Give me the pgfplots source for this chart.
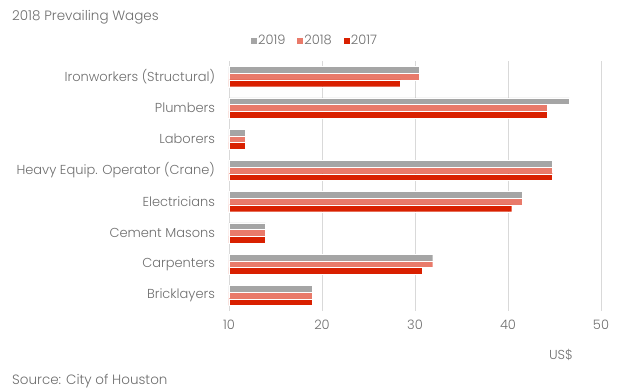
\documentclass[border=0pt]{standalone}
\usepackage{pgfplots}
\pgfplotsset{compat=1.18}
\usepackage{fontspec}
\setmainfont{Poppins}[UprightFont={* Light}]
\definecolor{c19}{HTML}{A5A5A5}
\definecolor{c18}{HTML}{E97A6A}
\definecolor{c17}{HTML}{D92000}
\definecolor{txt}{HTML}{6E6E6E}
\definecolor{grd}{HTML}{D9D9D9}
\begin{document}
\begin{tikzpicture}[x=1pt,y=1pt]
\useasboundingbox (0,0) rectangle (619,389);
\begin{axis}[
  at={(229pt,78pt)}, anchor=south west,
  scale only axis, width=372pt, height=250pt,
  xbar=0pt, bar width=6.7pt,
  ymin=-0.5, ymax=7.5, y dir=reverse,
  xmin=10, xmax=50,
  ytick={0,...,7},
  yticklabels={Ironworkers (Structural),Plumbers,Laborers,Heavy Equip. Operator (Crane),Electricians,Cement Masons,Carpenters,Bricklayers},
  xtick={10,20,...,50},
  xmajorgrids, grid style={grd, line width=0.8pt},
  axis line style={draw=none},
  major tick length=0pt,
  /pgf/number format/assume math mode=true,
  ticklabel style={font=\fontsize{13}{15}\selectfont, text=txt},
  yticklabel style={xshift=-10.5pt},
  xticklabel style={yshift=-5.4pt},
  legend style={draw=none, fill=none, legend columns=3,
    at={(axis description cs:0.23,1)}, anchor=center, yshift=20pt,
    font=\fontsize{13}{15}\selectfont, text=txt,
    nodes={inner xsep=1pt},
    /tikz/every even column/.append style={column sep=11pt}},
  legend image code/.code={\fill[#1,draw=none] (0pt,-3pt) rectangle (6pt,3pt);},
]
\addplot[fill=c19, draw=white, line width=0.3pt, bar shift=6.7pt] coordinates {(30.45,0) (46.6,1) (11.7,2) (44.8,3) (41.5,4) (13.9,5) (31.9,6) (18.9,7)};
\addplot[fill=c18, draw=white, line width=0.3pt, bar shift=0pt] coordinates {(30.45,0) (44.2,1) (11.7,2) (44.8,3) (41.5,4) (13.9,5) (31.9,6) (18.9,7)};
\addplot[fill=c17, draw=white, line width=0.3pt, bar shift=-6.7pt] coordinates {(28.45,0) (44.2,1) (11.7,2) (44.8,3) (40.4,4) (13.9,5) (30.8,6) (18.9,7)};
\legend{2019,2018,2017}
\end{axis}
\node[anchor=west, text=txt, font=\fontsize{13.5}{15}\selectfont, inner sep=0pt] at (12,372) {2018 Prevailing Wages};
\node[anchor=west, text=txt, font=\fontsize{13.5}{15}\selectfont, inner sep=0pt] at (12,8) {Source: City of Houston};
\node[text=txt, font=\fontsize{13}{15}\selectfont, inner sep=0pt] at (561,34) {US\$};
\end{tikzpicture}
\end{document}
